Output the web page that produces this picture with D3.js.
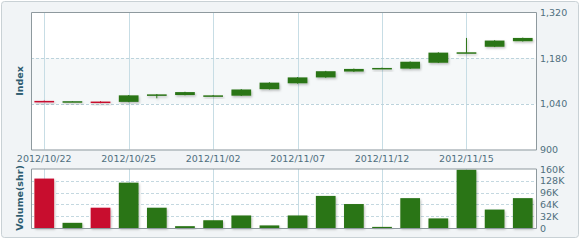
<!DOCTYPE html>
<html>
<head>
<meta charset="utf-8">
<script src="https://cdn.jsdelivr.net/npm/d3@7"></script>
<style>
  body { margin: 0; background: #fff; }
  svg { display: block; font-family: "DejaVu Sans", Verdana, sans-serif; }
  .axis text { fill: #4f6f7e; font-size: 9.5px; font-family: "DejaVu Sans", Verdana, sans-serif; }
  .axis path, .axis line { display: none; }
  .title { fill: #2d5c70; font-size: 9.5px; font-weight: bold; }
</style>
</head>
<body>
<div class="graph"></div>
<script>
// trading days
var dates = ["2012/10/22", "2012/10/23", "2012/10/24", "2012/10/25", "2012/10/26", "2012/11/01",
             "2012/11/02", "2012/11/05", "2012/11/06", "2012/11/07", "2012/11/08", "2012/11/09",
             "2012/11/12", "2012/11/13", "2012/11/14", "2012/11/15", "2012/11/16", "2012/11/19"];
var openVals  = [1049, 1047, 1047, 1046, 1067, 1067, 1065, 1065, 1085, 1103, 1121, 1139, 1149, 1148, 1166, 1197, 1215, 1232];
var highVals  = [1050, 1048, 1048, 1067, 1070, 1077, 1067, 1085, 1106, 1122, 1141, 1148, 1151, 1170, 1198, 1242, 1235, 1243];
var lowVals   = [1046, 1046, 1042, 1045, 1057, 1066, 1064, 1064, 1084, 1102, 1120, 1138, 1148, 1147, 1165, 1196, 1214, 1231];
var closeVals = [1047, 1048, 1043, 1066, 1069, 1076, 1066, 1084, 1105, 1121, 1140, 1147, 1150, 1169, 1197, 1198, 1234, 1242];
var volumes   = [134000, 14000, 55000, 123000, 55000, 5000, 21000, 34000, 7000, 34000, 87000, 65000, 3000, 81000, 26000, 158000, 50000, 81000];
var dateTicks = ["2012/10/22", "2012/10/25", "2012/11/02", "2012/11/07", "2012/11/12", "2012/11/15"];
var priceTicks = [900, 1040, 1180, 1320];
var volumeTicks = [0, 32000, 64000, 96000, 128000, 160000];

var W = 580, H = 241;
var left = 31, right = 536;
var priceTop = 12.5, priceBottom = 149.5;
var volTop = 169, volBottom = 228;
var UP = "#2a7416", DOWN = "#c8102e";

var svg = d3.select(".graph").append("svg")
    .attr("width", W)
    .attr("height", H);

var defs = svg.append("defs");
var f = defs.append("filter").attr("id", "shadow").attr("x", "-20%").attr("y", "-50%").attr("width", "160%").attr("height", "250%");
f.append("feDropShadow").attr("dx", 1).attr("dy", 1.5).attr("stdDeviation", 1)
    .attr("flood-color", "#000").attr("flood-opacity", 0.25);

// outer frame
svg.append("rect")
    .attr("x", 1.5).attr("y", 1.5).attr("width", W - 3).attr("height", 236)
    .attr("rx", 3)
    .attr("fill", "#f1f4f6").attr("stroke", "#c9d1d5");

var xScale = d3.scaleBand().domain(dates).range([left, right]).paddingInner(0.3).paddingOuter(0.12);
var xMid = function(d) { return xScale(d) + xScale.bandwidth() / 2; };
var yPrice = d3.scaleLinear().domain([900, 1320]).range([priceBottom, priceTop]);
var yVol = d3.scaleLinear().domain([0, 160000]).range([volBottom, volTop]);

// panel backgrounds
svg.append("rect").attr("x", left).attr("y", priceTop).attr("width", right - left).attr("height", priceBottom - priceTop).attr("fill", "#fff");
svg.append("rect").attr("x", left).attr("y", yPrice(1180)).attr("width", right - left)
    .attr("height", yPrice(1040) - yPrice(1180)).attr("fill", "#f5f8f9");
svg.append("rect").attr("x", left).attr("y", volTop).attr("width", right - left).attr("height", volBottom - volTop).attr("fill", "#fff");

// vertical grid lines in both panels
[[priceTop, priceBottom], [volTop, volBottom]].forEach(function(r) {
    svg.append("g").selectAll("line")
        .data(dateTicks)
        .enter().append("line")
        .attr("x1", function(d) { return Math.round(xMid(d)) + 0.5; })
        .attr("x2", function(d) { return Math.round(xMid(d)) + 0.5; })
        .attr("y1", r[0]).attr("y2", r[1])
        .attr("stroke", "#c7dde5");
});

// horizontal dashed grid lines
svg.append("g").selectAll("line")
    .data([1040, 1180])
    .enter().append("line")
    .attr("x1", left).attr("x2", right)
    .attr("y1", function(d) { return Math.round(yPrice(d)) + 0.5; })
    .attr("y2", function(d) { return Math.round(yPrice(d)) + 0.5; })
    .attr("stroke", "#bcd3dc").attr("stroke-dasharray", "3,2");

svg.append("g").selectAll("line")
    .data([32000, 64000, 96000, 128000])
    .enter().append("line")
    .attr("x1", left).attr("x2", right)
    .attr("y1", function(d) { return Math.round(yVol(d)) + 0.5; })
    .attr("y2", function(d) { return Math.round(yVol(d)) + 0.5; })
    .attr("stroke", "#c4d8e0").attr("stroke-dasharray", "3,2");

// candles
var candles = dates.map(function(d, i) {
    return {date: d, o: openVals[i], h: highVals[i], l: lowVals[i], c: closeVals[i], v: volumes[i]};
});

var candle = svg.append("g").selectAll("g")
    .data(candles)
    .enter().append("g")
    .attr("filter", "url(#shadow)");

candle.append("line")
    .attr("x1", function(d) { return xMid(d.date); })
    .attr("x2", function(d) { return xMid(d.date); })
    .attr("y1", function(d) { return yPrice(d.h); })
    .attr("y2", function(d) { return yPrice(d.l); })
    .attr("stroke", function(d) { return d.c >= d.o ? UP : DOWN; });

candle.append("rect")
    .attr("x", function(d) { return xScale(d.date); })
    .attr("width", xScale.bandwidth())
    .attr("y", function(d) { return yPrice(Math.max(d.o, d.c)); })
    .attr("height", function(d) { return Math.max(1.5, Math.abs(yPrice(d.o) - yPrice(d.c))); })
    .attr("fill", function(d) { return d.c >= d.o ? UP : DOWN; });

// volume bars
svg.append("g").selectAll("rect")
    .data(candles)
    .enter().append("rect")
    .attr("x", function(d) { return xScale(d.date); })
    .attr("width", xScale.bandwidth())
    .attr("y", function(d) { return yVol(d.v); })
    .attr("height", function(d) { return volBottom - yVol(d.v); })
    .attr("fill", function(d) { return d.c >= d.o ? UP : DOWN; })
    .attr("filter", "url(#shadow)");

// panel borders
function frame(y0, y1) {
    svg.append("path")
        .attr("d", "M" + (left + 0.5) + "," + y0 + "H" + (right + 0.5) + "V" + (y1 + 0.5) + "H" + (left + 0.5) + "Z")
        .attr("fill", "none").attr("stroke", "#8e999e");
}
frame(priceTop, priceBottom);
frame(volTop, volBottom);

// axes
svg.append("g")
    .attr("class", "axis")
    .attr("transform", "translate(" + (right + 2) + ",0)")
    .call(d3.axisRight(yPrice).tickValues(priceTicks).tickSize(0).tickPadding(2).tickFormat(d3.format(",")));

svg.append("g")
    .attr("class", "axis")
    .attr("transform", "translate(" + (right + 2) + ",0)")
    .call(d3.axisRight(yVol).tickValues(volumeTicks).tickSize(0).tickPadding(2)
        .tickFormat(function(d) { return d === 0 ? "0" : (d / 1000) + "K"; }));

svg.append("g")
    .attr("class", "axis")
    .attr("transform", "translate(0," + priceBottom + ")")
    .call(d3.axisBottom(xScale).tickValues(dateTicks).tickSize(0).tickPadding(6));

// titles
svg.append("text")
    .attr("class", "title")
    .attr("text-anchor", "middle")
    .attr("transform", "translate(23," + 81 + ")rotate(-90)")
    .text("Index");

svg.append("text")
    .attr("class", "title")
    .attr("text-anchor", "middle")
    .attr("transform", "translate(23," + 198 + ")rotate(-90)")
    .text("Volume(shr)");
</script>
</body>
</html>
